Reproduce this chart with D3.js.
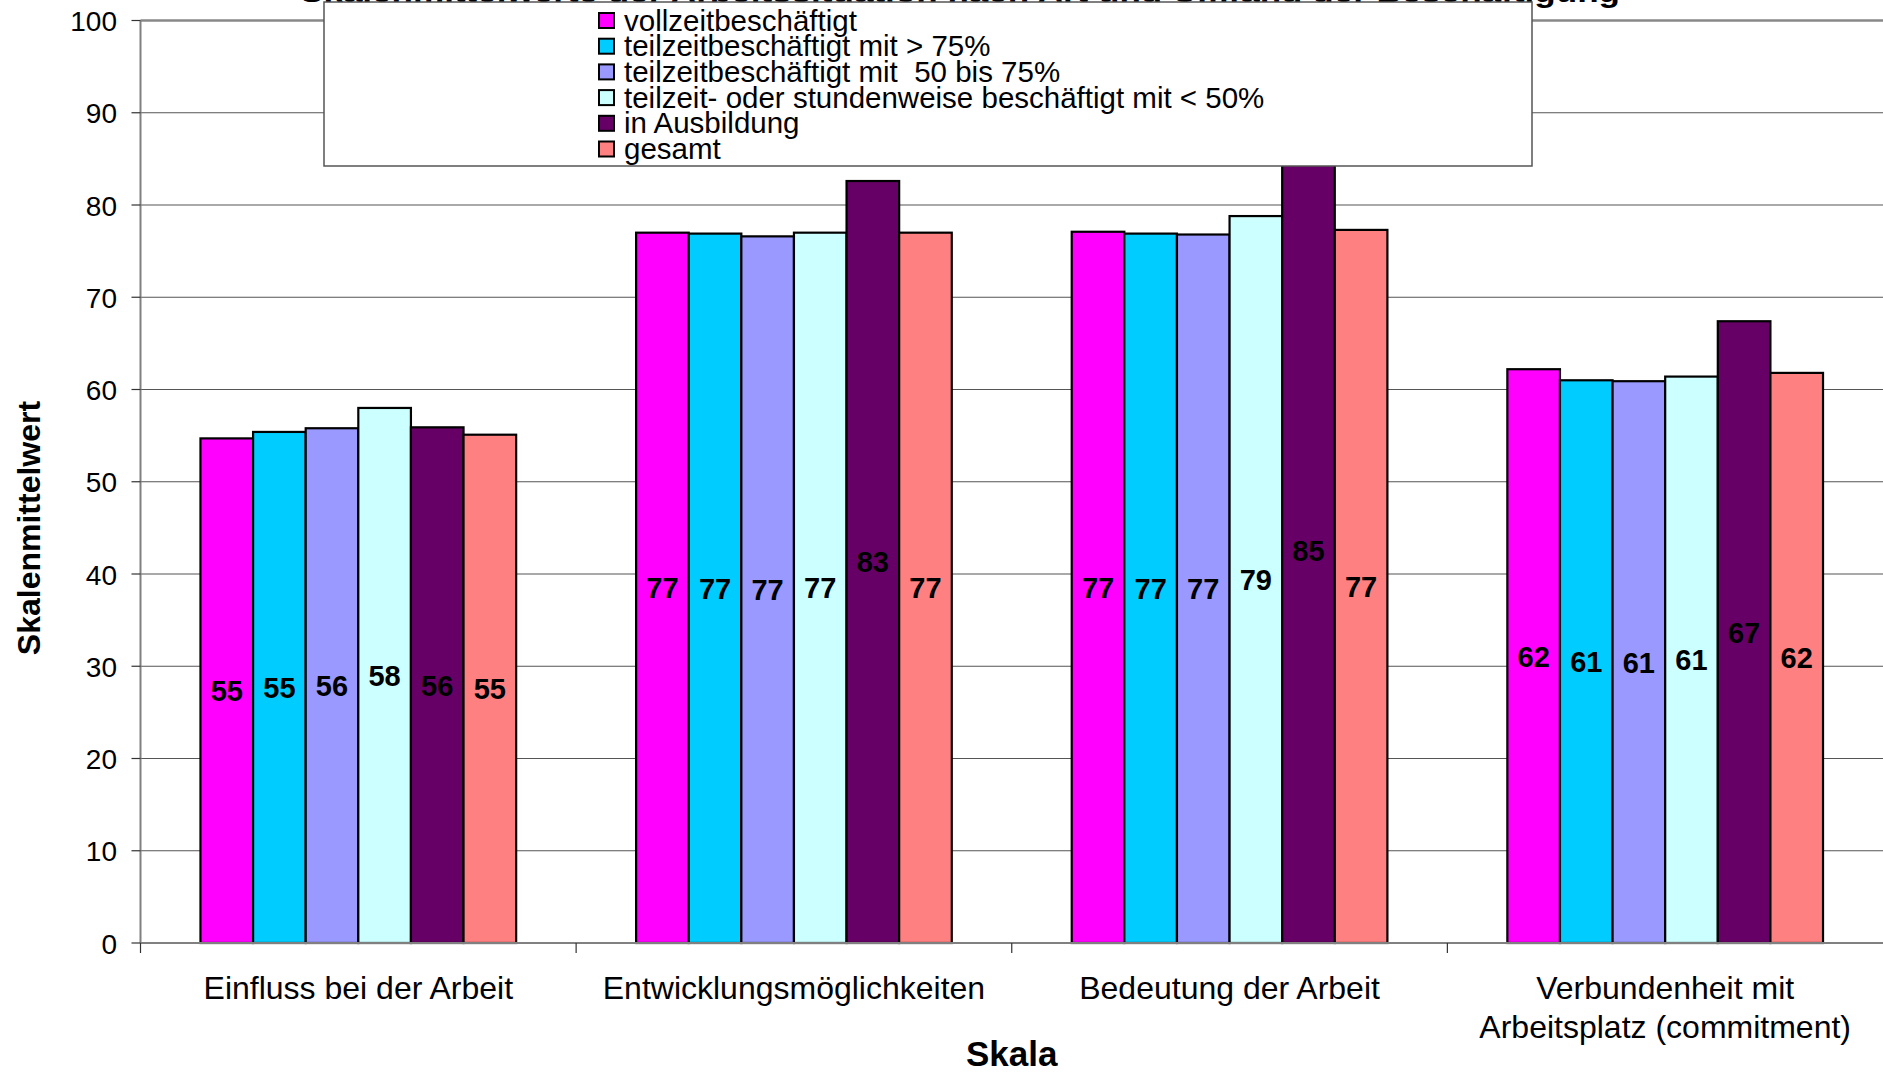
<!DOCTYPE html>
<html>
<head>
<meta charset="utf-8">
<script src="https://cdn.jsdelivr.net/npm/d3@7"></script>
<style>
  html, body { margin: 0; padding: 0; background: #fff; overflow: hidden; }
  svg { display: block; font-family: "Liberation Sans", Arial, sans-serif; }
</style>
</head>
<body>
<svg id="chart" width="1883" height="1072"></svg>
<script>
// Skalenmittelwerte nach Beschaeftigungsart - grouped bars

const categories = [
  ['Einfluss bei der Arbeit'],
  ['Entwicklungsmöglichkeiten'],
  ['Bedeutung der Arbeit'],
  ['Verbundenheit mit', 'Arbeitsplatz (commitment)']
];
const seriesNames = [
  'vollzeitbeschäftigt',
  'teilzeitbeschäftigt mit > 75%',
  'teilzeitbeschäftigt mit  50 bis 75%',
  'teilzeit- oder stundenweise beschäftigt mit < 50%',
  'in Ausbildung',
  'gesamt'
];
const seriesColors = ['#ff00ff', '#00ccff', '#9999ff', '#ccffff', '#660066', '#ff8080'];

const vollzeit = [54.7, 77.0, 77.1, 62.2];
const teilzeitUeber75 = [55.4, 76.9, 76.9, 61.0];
const teilzeit50bis75 = [55.8, 76.6, 76.8, 60.9];
const teilzeitUnter50 = [58.0, 77.0, 78.8, 61.4];
const ausbildung = [55.9, 82.6, 85.0, 67.4];
const gesamt = [55.1, 77.0, 77.3, 61.8];
const seriesValues = [vollzeit, teilzeitUeber75, teilzeit50bis75, teilzeitUnter50, ausbildung, gesamt];

const yTicks = [0, 10, 20, 30, 40, 50, 60, 70, 80, 90, 100];
const chartTitle = 'Skalenmittelwerte der Arbeitssituation nach Art und Umfang der Beschäftigung';
const xTitle = 'Skala';
const yTitle = 'Skalenmittelwert';

const svg = d3.select('#chart');
const plotLeft = 140.5, plotRight = 1883, plotTop = 20.5, plotBottom = 943;

const x0 = d3.scaleBand().domain(d3.range(categories.length)).range([plotLeft, plotRight]);
const x1 = d3.scaleBand().domain(d3.range(seriesNames.length))
  .range([0, x0.bandwidth()]).paddingOuter(1.14);
const y = d3.scaleLinear().domain([0, 100]).range([plotBottom, plotTop]);

function label(g, tx, ty, str, size, anchor) {
  return g.append('text')
    .attr('x', tx).attr('y', ty)
    .attr('text-anchor', anchor || 'start')
    .attr('font-size', size)
    .attr('fill', '#000')
    .text(str);
}

// title (mostly hidden behind the legend)
svg.append('text')
  .attr('x', 300).attr('y', 2)
  .attr('textLength', 1320).attr('lengthAdjust', 'spacingAndGlyphs')
  .attr('font-size', 30).attr('font-weight', 'bold')
  .text(chartTitle);

// gridlines
svg.append('g').selectAll('line')
  .data(yTicks.filter(d => d > 0)).enter().append('line')
  .attr('x1', plotLeft).attr('x2', plotRight)
  .attr('y1', d => y(d)).attr('y2', d => y(d))
  .attr('stroke', d => d === 100 ? '#888' : '#555')
  .attr('stroke-width', d => d === 100 ? 2.5 : 1.2);

// bars
const groups = svg.append('g').selectAll('g')
  .data(categories).enter().append('g')
  .attr('transform', (d, i) => `translate(${x0(i)},0)`);

groups.each(function(cat, ci) {
  const g = d3.select(this);
  const vals = seriesValues.map((s, si) => ({ si, v: s[ci] }));
  g.selectAll('rect').data(vals).enter().append('rect')
    .attr('x', d => x1(d.si))
    .attr('width', x1.bandwidth())
    .attr('y', d => y(d.v))
    .attr('height', d => y(0) - y(d.v))
    .attr('fill', d => seriesColors[d.si])
    .attr('stroke', '#000').attr('stroke-width', 2.2);
  g.selectAll('text.val').data(vals).enter().append('text')
    .attr('class', 'val')
    .attr('x', d => x1(d.si) + x1.bandwidth() / 2)
    .attr('y', d => y(d.v / 2))
    .attr('dy', '0.36em')
    .attr('text-anchor', 'middle')
    .attr('font-size', 29).attr('font-weight', 'bold')
    .text(d => Math.round(d.v));
});

// axes
const axes = svg.append('g').attr('stroke', '#808080').attr('stroke-width', 2);
axes.append('line').attr('x1', plotLeft).attr('x2', plotLeft).attr('y1', plotTop).attr('y2', plotBottom);
axes.append('line').attr('x1', plotLeft).attr('x2', plotRight).attr('y1', plotBottom).attr('y2', plotBottom);

svg.append('g').selectAll('line')
  .data(yTicks).enter().append('line')
  .attr('x1', plotLeft - 9).attr('x2', plotLeft)
  .attr('y1', d => y(d)).attr('y2', d => y(d))
  .attr('stroke', '#333').attr('stroke-width', 1.2);

svg.append('g').selectAll('line')
  .data(d3.range(categories.length)).enter().append('line')
  .attr('x1', d => x0(d)).attr('x2', d => x0(d))
  .attr('y1', plotBottom).attr('y2', plotBottom + 10)
  .attr('stroke', '#333').attr('stroke-width', 1.2);

const yLab = svg.append('g');
yTicks.forEach(t => label(yLab, 117, y(t) + 10.5, t, 28, 'end'));

const xLab = svg.append('g');
categories.forEach((lines, i) => {
  lines.forEach((ln, li) => {
    label(xLab, x0(i) + x0.bandwidth() / 2, 999 + li * 39, ln, 32, 'middle');
  });
});

// axis titles
svg.append('text')
  .attr('transform', `translate(${(plotLeft + plotRight) / 2},1066)`)
  .attr('text-anchor', 'middle')
  .attr('font-size', 35).attr('font-weight', 'bold')
  .text(xTitle);

svg.append('text')
  .attr('transform', 'translate(40,528) rotate(-90)')
  .attr('text-anchor', 'middle')
  .attr('font-size', 32).attr('font-weight', 'bold')
  .text(yTitle);

// legend
const legend = svg.append('g');
legend.append('rect')
  .attr('x', 324).attr('y', 2).attr('width', 1208).attr('height', 164)
  .attr('fill', '#fff').attr('stroke', '#555').attr('stroke-width', 1.5);
seriesNames.forEach((name, i) => {
  const cy = 20.5 + i * 25.7;
  legend.append('rect')
    .attr('x', 599).attr('y', cy - 7.5).attr('width', 15).attr('height', 15)
    .attr('fill', seriesColors[i]).attr('stroke', '#000').attr('stroke-width', 2);
  label(legend, 624, cy + 10, name, 29.5, 'start').style('white-space', 'pre');
});
</script>
</body>
</html>
